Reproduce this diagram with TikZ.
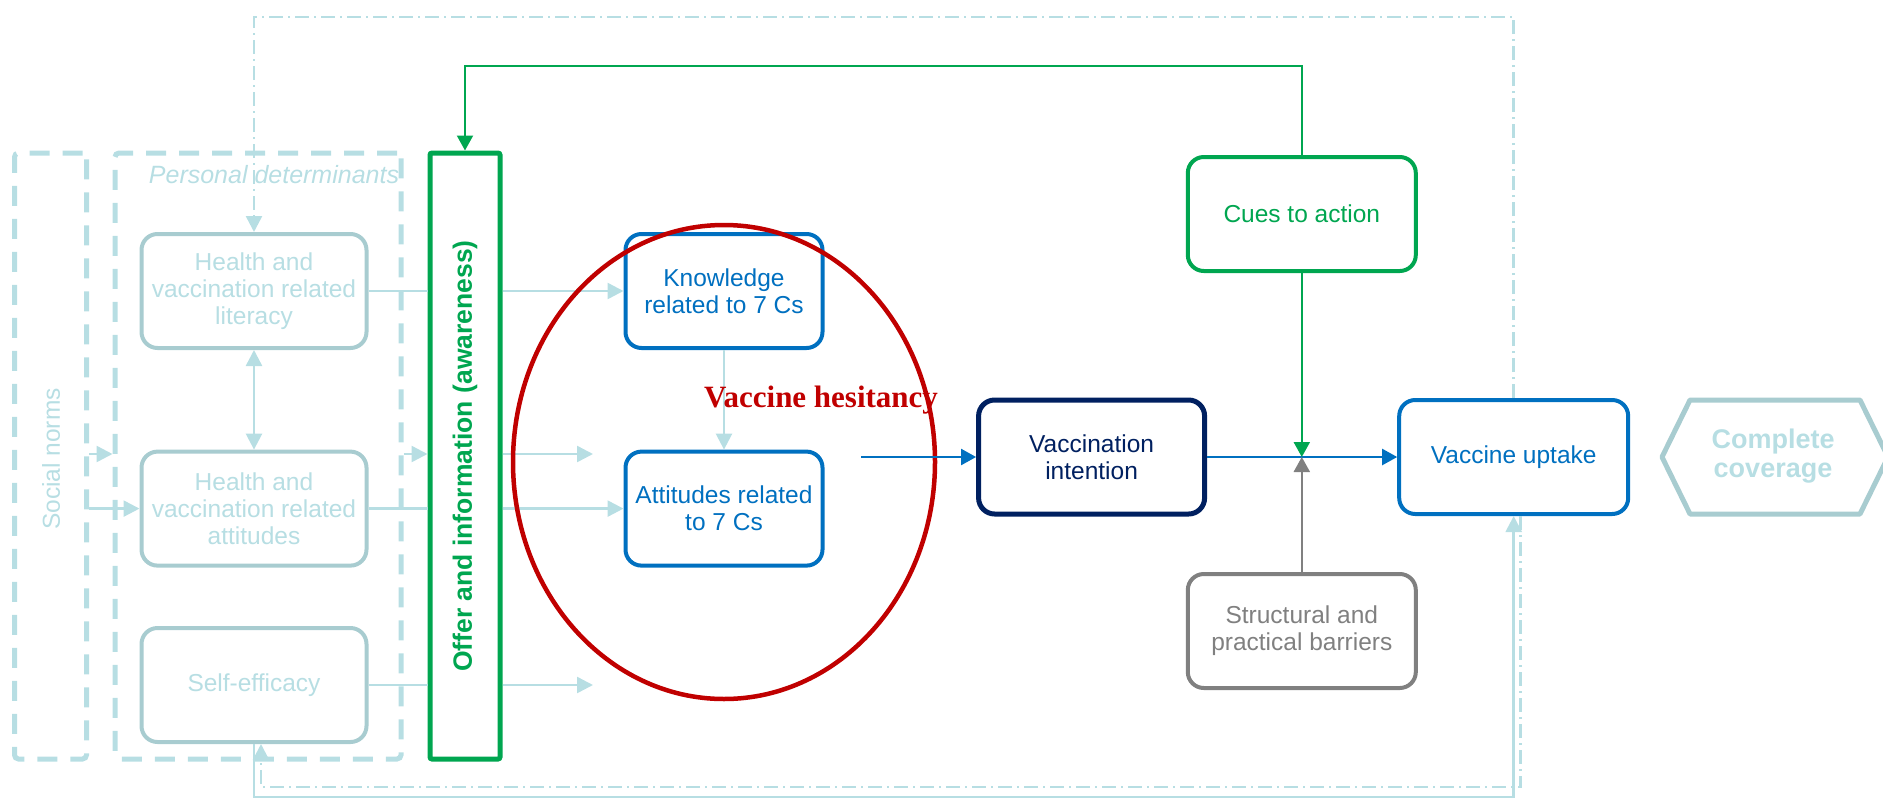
\documentclass[tikz,border=0pt]{standalone}
\usepackage{fontspec}
\setmainfont{Liberation Sans}
\newfontfamily\hesfont{Liberation Serif}
\usepackage{tikz}
\usetikzlibrary{arrows.meta,shapes.geometric}
\definecolor{lightcyan}{RGB}{183,222,227}
\definecolor{boxcyan}{RGB}{168,204,208}
\definecolor{ofgreen}{RGB}{0,166,80}
\definecolor{ofblue}{RGB}{0,112,192}
\definecolor{ofnavy}{RGB}{0,32,96}
\definecolor{ofred}{RGB}{192,0,0}
\definecolor{ofgray}{RGB}{128,128,128}

\begin{document}
\begin{tikzpicture}[x=1pt,y=-1pt,
	every node/.style={font=\fontsize{24.5}{27}\selectfont, align=center},
	rbox/.style={draw, fill=white, line width=4pt, rounded corners=16pt, minimum height=114pt},
	pbox/.style={rbox, draw=boxcyan, text=lightcyan, minimum width=225pt},
	cbox/.style={rbox, draw=ofblue, text=ofblue, minimum width=197pt},
	dbox/.style={draw=lightcyan, line width=5pt, dash pattern=on 20pt off 13pt, rounded corners=4pt, minimum height=606pt},
	lline/.style={draw=lightcyan, line width=2.5pt},
	larr/.style={lline, -{Triangle[length=16pt,width=16pt]}},
	ddot/.style={lline, dash pattern=on 14pt off 5pt on 2pt off 5pt},
	carr/.style={line width=2.2pt, -{Triangle[length=15pt,width=16pt]}}]
	\useasboundingbox (0,0) rectangle (1883,801);
	\coordinate (topl) at (0,17);
	\coordinate (gtop) at (0,66);
	\coordinate (botd) at (0,787);
	\coordinate (bots) at (0,797);
	\coordinate (mid) at (0,454);
	\coordinate (e2) at (593,454);
	\coordinate (e3) at (593,685);
	\coordinate (hs) at (861,457);
	\coordinate (j) at (1301.8,457);

	\node[dbox, minimum width=72pt] (soc) at (50.5,456) {};
	\node[rotate=90, text=lightcyan] (soct) at (51,459) {Social norms};
	\node[dbox, minimum width=286pt] (pers) at (258,456) {};
	\node[text=lightcyan, font=\itshape\fontsize{25}{27}\selectfont] (perst) at (274,175) {Personal determinants};
	\node[draw=ofgreen, line width=5pt, rounded corners=2pt, minimum width=70pt, minimum height=606pt] (off) at (465,456) {};
	\node[rotate=90, text=ofgreen, font=\bfseries\fontsize{26.5}{28}\selectfont] (offt) at (465,456) {Offer and information (awareness)};

	\node[pbox] (lit) at (254,291) {Health and\\vaccination related\\literacy};
	\node[pbox] (att) at (254,508.6) {Health and\\vaccination related\\attitudes};
	\node[pbox] (self) at (254,685) {Self-efficacy};
	\node[cbox] (know) at (724,291) {Knowledge\\related to 7 Cs};
	\node[cbox] (akn) at (724,508.6) {Attitudes related\\to 7 Cs};
	\node[rbox, draw=ofnavy, text=ofnavy, line width=5pt, minimum width=226pt] (int) at (1091.6,457) {Vaccination\\intention};
	\node[rbox, draw=ofgreen, text=ofgreen, minimum width=228pt] (cue) at (1301.8,214) {Cues to action};
	\node[rbox, draw=ofgray, text=ofgray, minimum width=228pt] (bar) at (1301.8,631) {Structural and\\practical barriers};
	\node[rbox, draw=ofblue, text=ofblue, minimum width=229pt] (upt) at (1513.7,457) {Vaccine uptake};
	\draw[draw=boxcyan, line width=5pt, line join=round] (1662,457) -- (1690,400) -- (1860,400) -- (1888,457) -- (1860,514) -- (1690,514) -- cycle;
	\node[text=lightcyan, font=\bfseries\fontsize{27}{29}\selectfont] (cov) at (1773,456) {Complete\\coverage};

	\coordinate (ur) at ([xshift=7pt]upt.south);
	\coordinate (sr) at ([xshift=7pt]self.south);
	\draw[ddot, -{Triangle[length=16pt,width=16pt]}] (upt.north) -- (upt.north |- topl) -| (lit.north);
	\draw[ddot, -{Triangle[length=16pt,width=16pt]}] (ur) -- (ur |- botd) -| (sr);
	\draw[larr] (self.south) -- (self.south |- bots) -| (upt.south);
	\draw[larr, {Triangle[length=16pt,width=16pt]}-{Triangle[length=16pt,width=16pt]}] (lit) -- (att);
	\draw[larr] (soc.east |- mid) -- (pers.west |- mid);
	\draw[larr] (soc.east |- att) -- (att.west);
	\draw[larr] (pers.east |- mid) -- (off.west |- mid);
	\draw[larr] (off.east |- mid) -- (e2);
	\draw[lline] (lit.east) -- (off.west |- lit);
	\draw[larr] (off.east |- lit) -- (know.west);
	\draw[lline] (att.east) -- (off.west |- att);
	\draw[larr] (off.east |- att) -- (akn.west);
	\draw[lline] (self.east) -- (off.west |- self);
	\draw[larr] (off.east |- self) -- (e3);
	\draw[larr] (know) -- (akn);

	\node[ellipse, draw=ofred, line width=4.5pt, minimum width=422pt, minimum height=474pt] (hes) at (724,462) {};
	\node[text=ofred, font=\hesfont\bfseries\fontsize{31}{33}\selectfont] (hest) at (821,400) {Vaccine hesitancy};

	\draw[carr, ofgreen] (cue.north) -- (cue.north |- gtop) -| (off.north);
	\draw[carr, ofblue] (hs) -- (int.west);
	\draw[carr, ofblue] (int.east) -- (upt.west);
	\draw[carr, ofgreen] (cue) -- (j);
	\draw[carr, ofgray] (bar) -- (j);
\end{tikzpicture}
\end{document}
